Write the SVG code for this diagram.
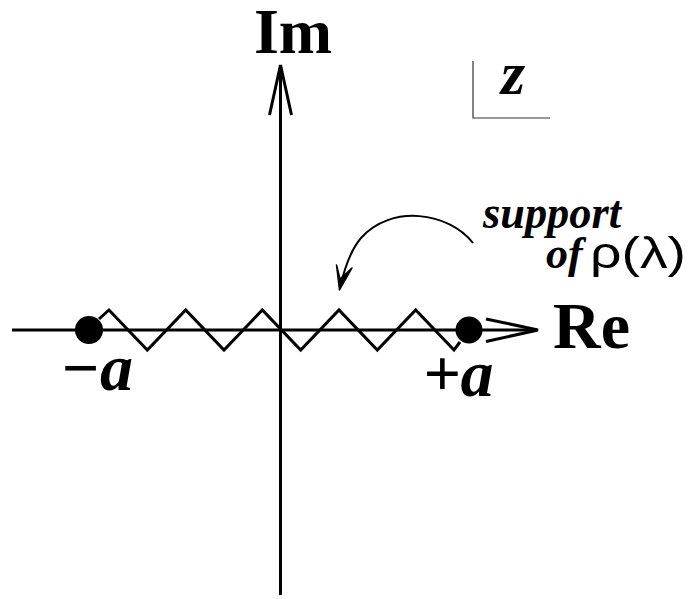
<svg xmlns="http://www.w3.org/2000/svg" width="691" height="599" viewBox="0 0 691 599">
<style>
.ax{stroke:#000;stroke-width:3;fill:none;stroke-linecap:butt}
.lbl{font-family:"Liberation Serif","Times New Roman",serif;font-weight:bold;fill:#000}
.it{font-style:italic}
.sans{font-family:"Liberation Sans",Arial,sans-serif;font-weight:normal;font-style:normal}
</style>
<rect width="691" height="599" fill="#fff"/>
<g id="connectors">
<line class="ax" x1="12" y1="330" x2="536" y2="330"/>
<polyline class="ax" points="486,319 538,330 486,341.5"/>
<line class="ax" x1="280.5" y1="595" x2="280.5" y2="67"/>
<polyline class="ax" points="269.5,115 280.5,65 291.5,115"/>
<path d="M473,243 C449,212 391,204 361,238 C350,251 344,270 340,288" fill="none" stroke="#000" stroke-width="2"/>
<path d="M336.5,265 L339.5,290 L352,268 L340,279 Z" fill="#000" stroke="#000" stroke-width="1.5" stroke-linejoin="round"/>
</g>
<g id="support-cut">
<polyline class="ax" points="99,319 109,310 147.3,350 185.7,310 224,350 262.3,310 300.7,350 339,310 377.3,350 415.7,310 454,350 460,342"/>
</g>
<g id="node-minus-a">
<circle cx="89" cy="330" r="14" fill="#000"/>
<text class="lbl it" x="60" y="390" font-size="66">−a</text>
</g>
<g id="node-plus-a">
<circle cx="469" cy="330" r="13.5" fill="#000"/>
<text class="lbl it" x="423" y="396" font-size="66">+a</text>
</g>
<g id="label-im">
<text class="lbl" x="293" y="53" font-size="64" text-anchor="middle">Im</text>
</g>
<g id="label-re">
<text class="lbl" x="553" y="348" font-size="66">Re</text>
</g>
<g id="label-z">
<polyline points="473,61 473,118 550,118" fill="none" stroke="#333" stroke-width="1.2"/>
<text class="lbl it" x="501" y="94" font-size="62">z</text>
</g>
<g id="label-support">
<text class="lbl it" x="483" y="228" font-size="47" textLength="138" lengthAdjust="spacingAndGlyphs">support</text>
<text class="lbl it" x="546" y="268" font-size="44">of</text>
<text class="lbl sans" x="590" y="268" font-size="44" textLength="96" lengthAdjust="spacingAndGlyphs">ρ(λ)</text>
</g>
</svg>
